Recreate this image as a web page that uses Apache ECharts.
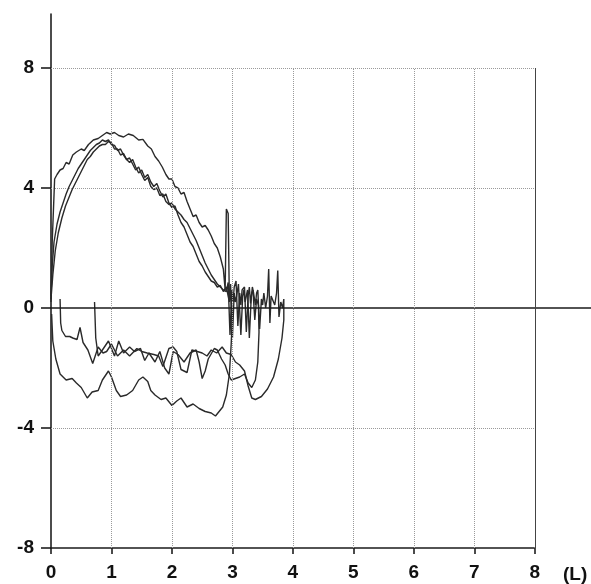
<!DOCTYPE html>
<html>
<head>
<meta charset="utf-8">
<script src="https://cdn.jsdelivr.net/npm/echarts@6/dist/echarts.min.js"></script>
<style>
  html, body { margin: 0; padding: 0; background: #fff; }
  #chart-box { width: 591px; height: 584px; }
</style>
</head>
<body>
<div id="chart-box"></div>
<script>
// tick labels
const volumeTicks = [0, 1, 2, 3, 4, 5, 6, 7, 8];
const flowTicks = [-8, -4, 0, 4, 8];
const gridFlows = [8, 4, -4];

// loop 1: outer expiration, then the lowest inspiration back to 0
const loop1 = [
  [0.0, 0.2], [0.02, 2.2], [0.06, 4.3], [0.1, 4.45], [0.15, 4.6], [0.2, 4.65], [0.25, 4.85], [0.3, 4.8],
  [0.36, 5.1], [0.42, 5.2], [0.5, 5.3], [0.55, 5.25], [0.62, 5.45], [0.7, 5.6], [0.78, 5.65], [0.85, 5.75],
  [0.92, 5.85], [0.98, 5.8], [1.05, 5.85], [1.12, 5.75], [1.2, 5.7], [1.28, 5.8], [1.36, 5.75], [1.45, 5.6],
  [1.52, 5.62], [1.6, 5.4], [1.66, 5.3], [1.72, 5.05], [1.78, 4.9], [1.84, 4.7], [1.9, 4.45], [1.95, 4.3],
  [2.0, 4.3], [2.05, 4.05], [2.1, 4.0], [2.15, 3.8], [2.2, 3.85], [2.25, 3.55], [2.3, 3.3], [2.35, 3.05],
  [2.4, 3.1], [2.45, 2.85], [2.5, 2.7], [2.55, 2.75], [2.6, 2.6], [2.65, 2.4], [2.7, 2.15], [2.75, 2.0],
  [2.8, 1.7], [2.85, 1.3], [2.88, 0.6], [2.9, 3.3], [2.93, 3.15], [2.95, 0.2], [2.97, 0.5], [3.0, -0.2],
  [2.98, -1.2], [2.95, -2.2], [2.9, -2.9], [2.84, -3.3], [2.78, -3.45], [2.72, -3.6], [2.65, -3.5], [2.55, -3.45],
  [2.45, -3.35], [2.35, -3.2], [2.25, -3.3], [2.15, -3.0], [2.08, -3.1], [2.0, -3.25], [1.9, -3.0], [1.82, -3.05],
  [1.72, -2.9], [1.65, -2.75], [1.6, -2.45], [1.52, -2.3], [1.45, -2.4], [1.35, -2.75], [1.25, -2.9], [1.15, -2.95],
  [1.08, -2.75], [1.0, -2.3], [0.95, -2.1], [0.85, -2.4], [0.78, -2.75], [0.68, -2.8], [0.6, -3.0], [0.5, -2.65],
  [0.42, -2.5], [0.35, -2.35], [0.25, -2.4], [0.15, -2.2], [0.08, -1.7], [0.03, -1.1], [0.01, -0.2]
];

// loop 2
const loop2 = [
  [0.0, 0.4], [0.02, 1.4], [0.05, 2.2], [0.1, 2.8], [0.15, 3.2], [0.2, 3.5], [0.25, 3.8], [0.3, 4.05],
  [0.35, 4.25], [0.4, 4.45], [0.45, 4.65], [0.5, 4.8], [0.55, 4.95], [0.6, 5.1], [0.65, 5.25], [0.7, 5.35],
  [0.75, 5.45], [0.8, 5.5], [0.85, 5.6], [0.9, 5.55], [0.95, 5.6], [1.0, 5.45], [1.05, 5.42], [1.1, 5.25],
  [1.15, 5.3], [1.2, 5.1], [1.25, 4.95], [1.3, 5.0], [1.35, 4.8], [1.4, 4.6], [1.45, 4.7], [1.5, 4.45],
  [1.55, 4.25], [1.6, 4.35], [1.65, 4.05], [1.7, 3.95], [1.75, 4.0], [1.8, 3.75], [1.85, 3.8], [1.9, 3.55],
  [1.95, 3.45], [2.0, 3.5], [2.05, 3.3], [2.1, 3.2], [2.15, 3.1], [2.2, 2.95], [2.25, 2.85], [2.3, 2.65],
  [2.35, 2.45], [2.4, 2.25], [2.45, 2.0], [2.5, 1.75], [2.55, 1.5], [2.6, 1.3], [2.65, 1.1], [2.7, 0.95],
  [2.75, 0.8], [2.8, 0.7], [2.85, 0.6], [2.9, 0.55], [2.93, 0.85], [2.96, -0.9], [2.99, 0.6], [3.01, 0.2],
  [3.03, 0.7], [3.06, 0.9], [3.09, -0.6], [3.12, 0.5], [3.14, 0.1], [3.16, 0.6], [3.2, 0.7], [3.23, -0.8],
  [3.26, 0.4], [3.28, 0.7], [3.3, 0.15], [3.32, 0.5], [3.34, 0.6], [3.37, -0.4], [3.4, 0.3], [3.43, 0.1],
  [3.44, -0.8], [3.42, -1.8], [3.38, -2.4], [3.32, -2.65],
  [3.26, -2.5], [3.2, -2.2], [3.12, -2.3], [3.05, -2.35], [2.98, -2.4], [2.93, -2.2], [2.88, -1.9], [2.82, -1.7],
  [2.75, -1.4], [2.7, -1.35], [2.6, -1.7], [2.55, -2.1], [2.5, -2.35], [2.45, -1.8], [2.4, -1.4], [2.3, -1.5],
  [2.2, -1.8], [2.1, -1.55], [2.02, -1.45], [1.95, -2.2], [1.88, -2.0], [1.8, -1.45], [1.72, -1.8], [1.62, -1.5],
  [1.55, -1.75], [1.48, -1.35], [1.38, -1.45], [1.3, -1.3], [1.2, -1.5], [1.12, -1.1], [1.05, -1.6], [0.95, -1.1],
  [0.85, -1.4], [0.78, -1.6], [0.74, -1.0], [0.72, 0.2]
];

// loop 3
const loop3 = [
  [0.0, 0.3], [0.03, 1.1], [0.07, 1.9], [0.12, 2.5], [0.18, 3.0], [0.24, 3.4], [0.3, 3.7], [0.35, 3.95],
  [0.4, 4.15], [0.45, 4.35], [0.5, 4.55], [0.55, 4.75], [0.6, 4.95], [0.65, 5.05], [0.7, 5.2], [0.75, 5.3],
  [0.8, 5.4], [0.85, 5.45], [0.9, 5.45], [0.95, 5.55], [1.0, 5.5], [1.05, 5.3], [1.1, 5.3], [1.15, 5.1],
  [1.2, 5.15], [1.25, 4.95], [1.3, 4.85], [1.35, 4.95], [1.4, 4.7], [1.45, 4.5], [1.5, 4.6], [1.55, 4.35],
  [1.6, 4.45], [1.65, 4.2], [1.7, 4.05], [1.75, 4.15], [1.8, 3.9], [1.85, 3.7], [1.9, 3.8], [1.95, 3.5],
  [2.0, 3.35], [2.05, 3.4], [2.1, 3.1], [2.15, 2.85], [2.2, 2.7], [2.25, 2.45], [2.3, 2.2], [2.35, 2.05],
  [2.4, 1.8], [2.45, 1.55], [2.5, 1.4], [2.55, 1.2], [2.6, 1.05], [2.65, 0.9], [2.7, 0.85], [2.75, 0.7],
  [2.8, 0.75], [2.85, 0.55], [2.9, 0.7], [2.94, 0.3], [2.97, 0.8], [3.0, -1.0], [3.03, 0.5], [3.05, 0.2],
  [3.07, 0.4], [3.1, 0.8], [3.14, -0.9], [3.17, 0.4], [3.19, 0.6], [3.21, 0.2], [3.25, 0.6], [3.28, -1.0],
  [3.31, 0.3], [3.33, 0.7], [3.35, 0.5], [3.38, 0.1], [3.4, 0.5], [3.42, 0.6], [3.45, -0.7], [3.48, 0.3],
  [3.5, 0.1], [3.52, 0.5], [3.55, 0.0], [3.58, 0.4], [3.6, 1.3], [3.62, -0.5], [3.64, 0.4], [3.66, 0.3],
  [3.7, 0.1], [3.73, 0.5], [3.75, 1.25], [3.77, -0.3], [3.8, 0.2], [3.83, 0.0],
  [3.85, 0.3], [3.85, -0.4], [3.82, -1.0], [3.76, -1.7], [3.68, -2.3], [3.58, -2.7], [3.48, -2.95], [3.38, -3.05],
  [3.32, -3.0], [3.26, -2.6], [3.2, -2.1], [3.12, -1.9], [3.05, -1.8], [2.98, -1.55], [2.9, -1.5], [2.83, -1.3],
  [2.74, -1.5], [2.65, -1.4], [2.58, -1.6], [2.5, -1.5], [2.42, -1.45], [2.33, -1.4], [2.25, -2.15], [2.15, -2.05],
  [2.08, -1.45], [2.02, -1.3], [1.95, -1.35], [1.85, -1.95], [1.78, -1.6], [1.7, -1.55], [1.59, -1.5], [1.5, -1.45],
  [1.42, -1.35], [1.3, -1.6], [1.2, -1.4], [1.1, -1.6], [1.0, -1.2], [0.92, -1.45], [0.86, -1.5], [0.78, -1.3],
  [0.69, -1.85], [0.61, -1.4], [0.53, -1.15], [0.48, -0.65], [0.43, -1.05], [0.36, -1.0], [0.31, -0.95], [0.24, -0.95],
  [0.18, -0.75], [0.16, -0.5], [0.15, 0.3]
];

const xMin = volumeTicks[0];
const xEnd = volumeTicks[volumeTicks.length - 1];
const yMin = flowTicks[0];
const yTop = flowTicks[flowTicks.length - 1];

const dotted = { color: '#9a9a9a', type: 'dotted', width: 1 };
const solid = { color: '#1a1a1a', type: 'solid', width: 1.5 };

// frame and grid lines, drawn in data coordinates
let frameLines = [
  { yAxis: 0, lineStyle: solid },
  [{ coord: [xMin, yMin], lineStyle: { color: '#1a1a1a', type: 'solid', width: 1.5 } }, { coord: [xEnd, yMin] }],
  [{ coord: [xEnd, yMin], lineStyle: { color: '#444', type: 'solid', width: 1 } }, { coord: [xEnd, yTop] }]
];
volumeTicks.slice(1, -1).forEach(v => {
  frameLines.push([{ coord: [v, yMin], lineStyle: dotted }, { coord: [v, yTop] }]);
});
gridFlows.forEach(f => {
  frameLines.push([{ coord: [xMin, f], lineStyle: dotted }, { coord: [xEnd, f] }]);
});

const labelFont = {
  fontFamily: 'Liberation Sans',
  fontWeight: 'bold',
  fontSize: 19,
  color: '#111'
};

const loopStyle = {
  type: 'line',
  showSymbol: false,
  symbol: 'none',
  z: 3,
  lineStyle: { color: '#2a2a2a', width: 1.4 }
};

let options = {
  animation: false,
  grid: { left: 51, right: 0, top: 14, bottom: 36 },
  xAxis: {
    type: 'value',
    min: 0,
    max: 8.93,
    name: '(L)',
    nameLocation: 'end',
    nameGap: -28,
    nameTextStyle: Object.assign({}, labelFont, { verticalAlign: 'top', align: 'left', padding: [17, 0, 0, 0] }),
    axisLine: { show: false, onZero: false },
    axisTick: { show: true, length: 6, customValues: volumeTicks, lineStyle: { color: '#111', width: 1.5 } },
    axisLabel: Object.assign({ customValues: volumeTicks, margin: 15 }, labelFont),
    splitLine: { show: false }
  },
  yAxis: {
    type: 'value',
    min: -8,
    max: 9.8,
    axisLine: { show: true, onZero: false, lineStyle: { color: '#111', width: 1.5 } },
    axisTick: { show: true, length: 10, customValues: flowTicks, lineStyle: { color: '#111', width: 1.5 } },
    axisLabel: Object.assign({ customValues: flowTicks, margin: 17 }, labelFont),
    splitLine: { show: false }
  },
  series: [
    {
      type: 'line',
      data: [],
      z: 1,
      clip: false,
      markLine: {
        silent: true,
        symbol: 'none',
        animation: false,
        label: { show: false },
        data: frameLines
      }
    },
    Object.assign({ data: loop1 }, loopStyle),
    Object.assign({ data: loop2 }, loopStyle),
    Object.assign({ data: loop3 }, loopStyle)
  ]
};

let dom = document.getElementById('chart-box');
let chart = echarts.init(dom);
chart.setOption(options);
</script>
</body>
</html>
